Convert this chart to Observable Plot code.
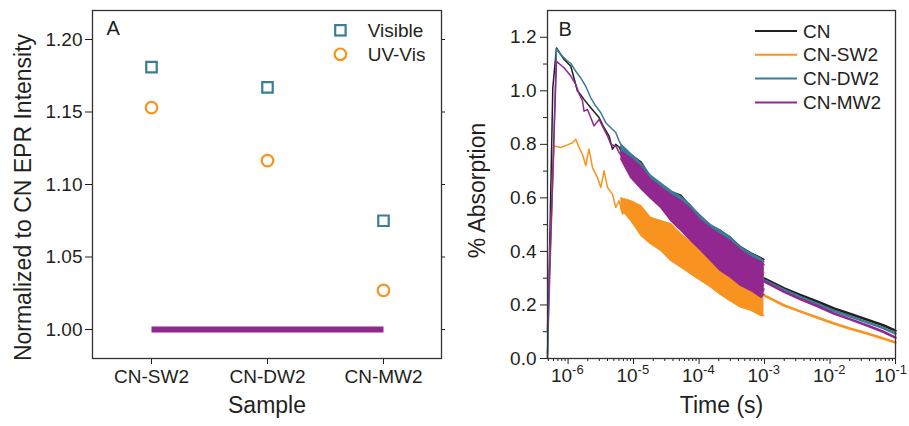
<!DOCTYPE html>
<html><head><meta charset="utf-8">
<script src="https://cdn.jsdelivr.net/npm/d3@7"></script>
<script src="https://cdn.jsdelivr.net/npm/@observablehq/plot@0.6"></script>
<style>
html,body{margin:0;padding:0;background:#fff;}
#wrap{position:relative;width:909px;height:426px;overflow:hidden;}
#a{position:absolute;left:0;top:0;}
#b{position:absolute;left:460px;top:0;}
</style></head><body><div id="wrap"><div id="a"></div><div id="b"></div></div>
<script>
// ---------- Panel A data ----------
const samples = ["CN-SW2", "CN-DW2", "CN-MW2"];
const visible = [1.181, 1.167, 1.075];
const uvVis = [1.153, 1.1165, 1.027];
const cnRef = [1.00, 1.00, 1.00];
const yTicksA = [1.00, 1.05, 1.10, 1.15, 1.20];
const legendA = ["Visible", "UV-Vis"];

// ---------- Panel B data ----------
const seriesNames = ["CN", "CN-SW2", "CN-DW2", "CN-MW2"];
const yMajorB = [0, 0.2, 0.4, 0.6, 0.8, 1.0, 1.2];
const yMinorB = [0.1, 0.3, 0.5, 0.7, 0.9, 1.1];
const xMajorB = [1e-6, 1e-5, 1e-4, 1e-3, 1e-2, 1e-1];
const xExpLabels = ["-6", "-5", "-4", "-3", "-2", "-1"];

// early (sparse, noisy) part
const cnEarlyT = [4.85e-7, 5.84e-7, 6.65e-7, 8.69e-7, 1.10e-6, 1.23e-6, 1.39e-6, 1.56e-6, 1.75e-6, 2.22e-6, 2.97e-6, 3.55e-6, 4.23e-6, 4.76e-6, 5.35e-6, 6.0e-6, 6.4e-6];
const cnEarlyV = [0.0, 1.01, 1.16, 1.117, 1.092, 1.048, 0.999, 0.985, 0.968, 0.937, 0.90, 0.862, 0.831, 0.782, 0.80, 0.79, 0.775];
const swEarlyT = [4.85e-7, 6.11e-7, 7.74e-7, 9.79e-7, 1.17e-6, 1.31e-6, 1.47e-6, 1.66e-6, 1.86e-6, 2.09e-6, 2.36e-6, 2.81e-6, 3.16e-6, 3.55e-6, 4.00e-6, 4.76e-6, 5.35e-6, 6.01e-6, 6.77e-6, 8.07e-6];
const swEarlyV = [0.12, 0.794, 0.788, 0.798, 0.806, 0.819, 0.788, 0.763, 0.72, 0.782, 0.713, 0.676, 0.639, 0.701, 0.639, 0.614, 0.564, 0.589, 0.54, 0.564];
const dwEarlyT = [4.85e-7, 6.65e-7, 7.74e-7, 9.22e-7, 1.10e-6, 1.31e-6, 1.56e-6, 1.86e-6, 2.22e-6, 2.65e-6, 3.16e-6, 3.76e-6, 4.49e-6, 5.35e-6, 6.0e-6, 6.4e-6];
const dwEarlyV = [0.02, 1.156, 1.135, 1.117, 1.102, 1.073, 1.048, 1.017, 0.974, 0.943, 0.918, 0.881, 0.862, 0.844, 0.813, 0.80];
const mwEarlyT = [4.85e-7, 6.65e-7, 8.69e-7, 1.10e-6, 1.31e-6, 1.47e-6, 1.66e-6, 1.75e-6, 1.98e-6, 2.49e-6, 2.97e-6, 4.00e-6, 4.49e-6, 5.35e-6, 6.0e-6, 6.4e-6];
const mwEarlyV = [0.105, 1.11, 1.086, 1.055, 1.024, 0.99, 0.962, 0.924, 0.93, 0.869, 0.893, 0.831, 0.80, 0.794, 0.77, 0.76];

// dense noisy part: envelope (low / high) of the noise band
const bandT = [6.4e-6, 9.1e-6, 1.3e-5, 1.8e-5, 2.6e-5, 3.7e-5, 5.3e-5, 7.5e-5, 1.06e-4, 1.5e-4, 2.1e-4, 3.0e-4, 4.3e-4, 6.2e-4, 8.8e-4, 9.8e-4];
const cnHi = [0.79, 0.762, 0.735, 0.68, 0.652, 0.624, 0.61, 0.568, 0.532, 0.497, 0.48, 0.452, 0.418, 0.395, 0.377, 0.37];
const cnLo = [0.765, 0.70, 0.65, 0.615, 0.58, 0.535, 0.50, 0.46, 0.425, 0.385, 0.35, 0.325, 0.295, 0.275, 0.25, 0.26];
const swHi = [0.60, 0.589, 0.57, 0.527, 0.515, 0.503, 0.465, 0.434, 0.42, 0.405, 0.39, 0.375, 0.36, 0.345, 0.33, 0.32];
const swLo = [0.56, 0.515, 0.46, 0.43, 0.404, 0.366, 0.341, 0.316, 0.292, 0.267, 0.24, 0.215, 0.192, 0.18, 0.161, 0.16];
const dwHi = [0.80, 0.765, 0.73, 0.685, 0.655, 0.627, 0.605, 0.572, 0.53, 0.50, 0.478, 0.455, 0.416, 0.393, 0.374, 0.362];
const dwLo = [0.77, 0.695, 0.645, 0.61, 0.575, 0.53, 0.495, 0.455, 0.42, 0.38, 0.345, 0.32, 0.29, 0.27, 0.245, 0.255];
const mwHi = [0.775, 0.75, 0.715, 0.67, 0.64, 0.612, 0.59, 0.557, 0.515, 0.487, 0.463, 0.44, 0.405, 0.38, 0.362, 0.35];
const mwLo = [0.745, 0.675, 0.634, 0.60, 0.564, 0.515, 0.478, 0.44, 0.404, 0.366, 0.329, 0.304, 0.273, 0.254, 0.229, 0.24];

// late (smoothed) part
const lateT = [1e-3, 2e-3, 3.5e-3, 6.5e-3, 1.15e-2, 2e-2, 3.7e-2, 6.5e-2, 1e-1];
const cnLate = [0.298, 0.262, 0.237, 0.212, 0.187, 0.167, 0.145, 0.124, 0.104];
const swLate = [0.235, 0.198, 0.176, 0.152, 0.131, 0.112, 0.093, 0.075, 0.060];
const dwLate = [0.292, 0.256, 0.230, 0.204, 0.178, 0.158, 0.135, 0.114, 0.093];
const mwLate = [0.287, 0.249, 0.222, 0.195, 0.168, 0.147, 0.123, 0.100, 0.078];

// ---------- styles ----------
const FONT = '"Liberation Sans", Arial, sans-serif';
const INK = "#231F20";
const colors = ["#231F20", "#F7931E", "#3A7D96", "#92278F"];

// ---------- Panel A ----------
const rowsA = samples.map((s, i) => ({s, vis: visible[i], uv: uvVis[i], ref: cnRef[i]}));

function legendMarkA(index, scales, values, dims) {
  const ml = dims.marginLeft, mt = dims.marginTop;
  const g = d3.create("svg:g").attr("font-family", FONT).attr("font-size", 19)
    .attr("fill", INK).attr("text-anchor", "start");
  const cx = ml + 248.4;
  g.append("rect").attr("x", cx - 5.2).attr("y", mt + 20.3 - 5.2).attr("width", 10.4).attr("height", 10.4)
    .attr("fill", "none").attr("stroke", colors[2]).attr("stroke-width", 2.2);
  g.append("circle").attr("cx", cx).attr("cy", mt + 44.3).attr("r", 5.8)
    .attr("fill", "none").attr("stroke", colors[1]).attr("stroke-width", 2.2);
  legendA.forEach((name, i) => {
    g.append("text").attr("x", ml + 275.7).attr("y", mt + 20.3 + i * 24).attr("dy", "0.35em").text(name);
  });
  return g.node();
}

const plotA = Plot.plot({
  width: 460, height: 426,
  marginLeft: 92, marginRight: 19, marginTop: 10, marginBottom: 68,
  style: {fontFamily: FONT, fontSize: "19px", color: INK, background: "transparent"},
  x: {type: "point", domain: samples, padding: 0.5},
  y: {domain: [0.98, 1.22]},
  marks: [
    Plot.axisY({ticks: yTicksA, tickFormat: d => d.toFixed(2), tickSize: 7, tickPadding: 3, label: null, fontSize: 19}),
    Plot.axisY({anchor: "right", ticks: yTicksA, tickSize: 3, tickFormat: () => "", label: null}),
    Plot.axisX({tickSize: 6, tickPadding: 5, label: null, fontSize: 19}),
    Plot.line(rowsA, {x: "s", y: "ref", stroke: colors[3], strokeWidth: 6, strokeLinecap: "butt"}),
    Plot.dot(rowsA, {x: "s", y: "vis", symbol: "square", r: 5.9, stroke: colors[2], strokeWidth: 2.2}),
    Plot.dot(rowsA, {x: "s", y: "uv", symbol: "circle", r: 5.8, stroke: colors[1], strokeWidth: 2.2}),
    Plot.frame({stroke: "#333", strokeWidth: 1.3}),
    Plot.text(["A"], {frameAnchor: "top-left", dx: 14, dy: 10, lineAnchor: "top", textAnchor: "start", fontSize: 20}),
    Plot.text(["Normalized to CN EPR Intensity"], {frameAnchor: "left", textAnchor: "middle", rotate: -90, dx: -69, dy: 13, fontSize: 23}),
    Plot.text(["Sample"], {frameAnchor: "bottom", dy: 54, fontSize: 23}),
    legendMarkA
  ]
});
document.getElementById("a").append(plotA);

// ---------- Panel B ----------
const zip = (t, v) => t.map((x, i) => ({t: x, v: v[i]}));
const band = (lo, hi) => bandT.map((x, i) => ({t: x, lo: lo[i], hi: hi[i]}));
const series = [
  {early: zip(cnEarlyT, cnEarlyV), band: band(cnLo, cnHi), late: zip(lateT, cnLate)},
  {early: zip(swEarlyT, swEarlyV), band: band(swLo, swHi), late: zip(lateT, swLate)},
  {early: zip(dwEarlyT, dwEarlyV), band: band(dwLo, dwHi), late: zip(lateT, dwLate)},
  {early: zip(mwEarlyT, mwEarlyV), band: band(mwLo, mwHi), late: zip(lateT, mwLate)}
];

const xMinorB = [];
for (let e = -7; e <= -2; e++) for (let m = 2; m <= 9; m++) {
  const v = m * Math.pow(10, e);
  if (v >= 4.85e-7 && v <= 0.1) xMinorB.push(v);
}

function legendMarkB(index, scales, values, dims) {
  const ml = dims.marginLeft, mt = dims.marginTop;
  const g = d3.create("svg:g").attr("font-family", FONT).attr("font-size", 19)
    .attr("fill", INK).attr("text-anchor", "start");
  seriesNames.forEach((name, i) => {
    const y = mt + 21 + i * 23.8;
    g.append("line").attr("x1", ml + 208).attr("x2", ml + 250).attr("y1", y).attr("y2", y)
      .attr("stroke", colors[i]).attr("stroke-width", 2);
    g.append("text").attr("x", ml + 256).attr("y", y).attr("dy", "0.35em").text(name);
  });
  return g.node();
}

const seriesMarks = [];
series.forEach((s, i) => {
  seriesMarks.push(Plot.areaY(s.band, {x: "t", y1: "lo", y2: "hi", fill: colors[i]}));
  seriesMarks.push(Plot.line(s.band, {x: "t", y: "hi", stroke: colors[i], strokeWidth: 1.4}));
  seriesMarks.push(Plot.line(s.band, {x: "t", y: "lo", stroke: colors[i], strokeWidth: 1.4}));
  seriesMarks.push(Plot.line(s.early, {x: "t", y: "v", stroke: colors[i], strokeWidth: 1.5}));
  seriesMarks.push(Plot.line(s.late, {x: "t", y: "v", stroke: colors[i], strokeWidth: 2.6}));
});

const plotB = Plot.plot({
  width: 449, height: 426,
  marginLeft: 87, marginRight: 14, marginTop: 10, marginBottom: 68,
  style: {fontFamily: FONT, fontSize: "19px", color: INK, background: "transparent"},
  x: {type: "log", domain: [4.85e-7, 0.1]},
  y: {domain: [0, 1.3]},
  marks: [
    Plot.axisY({ticks: yMajorB, tickFormat: d => d.toFixed(1), tickSize: 7, tickPadding: 4, label: null, fontSize: 19}),
    Plot.axisY({ticks: yMinorB, tickSize: 4, tickFormat: () => "", label: null}),
    Plot.axisX({ticks: xMajorB, tickSize: 6, tickFormat: () => "", label: null}),
    Plot.axisX({ticks: xMinorB, tickSize: 3, tickFormat: () => "", label: null}),
    Plot.text(xMajorB, {x: d => d, filter: d => d < 0.05, frameAnchor: "bottom", text: () => "10", textAnchor: "end", lineAnchor: "top", dx: 4, dy: 10, fontSize: 19}),
    Plot.text(xMajorB, {x: d => d, filter: d => d < 0.05, frameAnchor: "bottom", text: (d, i) => xExpLabels[i], textAnchor: "start", lineAnchor: "top", dx: 4, dy: 6, fontSize: 13}),
    Plot.text(xMajorB, {x: d => d, filter: d => d > 0.05, frameAnchor: "bottom", text: () => "10", textAnchor: "end", lineAnchor: "top", dx: 0, dy: 10, fontSize: 19}),
    Plot.text(xMajorB, {x: d => d, filter: d => d > 0.05, frameAnchor: "bottom", text: (d, i) => xExpLabels[i], textAnchor: "start", lineAnchor: "top", dx: 0, dy: 6, fontSize: 13}),
    ...seriesMarks,
    Plot.frame({stroke: "#333", strokeWidth: 1.3}),
    Plot.text(["B"], {frameAnchor: "top-left", dx: 11, dy: 11, lineAnchor: "top", textAnchor: "start", fontSize: 20}),
    Plot.text(["% Absorption"], {frameAnchor: "left", textAnchor: "middle", rotate: -90, dx: -70, dy: 6, fontSize: 23}),
    Plot.text(["Time (s)"], {frameAnchor: "bottom", dy: 54, fontSize: 23}),
    legendMarkB
  ]
});
document.getElementById("b").append(plotB);
</script>
</body></html>
